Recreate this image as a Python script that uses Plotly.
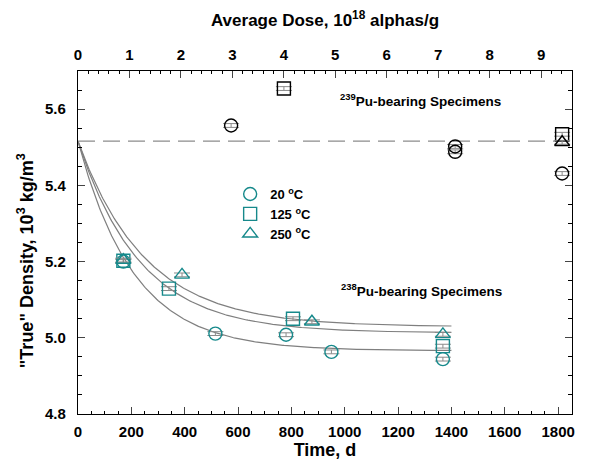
import numpy as np
import plotly.graph_objects as go

# ---- data ----
t20 = [170, 515, 780, 950, 1368]
d20 = [5.200, 5.011, 5.008, 4.963, 4.944]
t125 = [170, 341, 806, 1368]
d125 = [5.202, 5.129, 5.050, 4.978]
t250 = [170, 390, 877, 1368]
d250 = [5.204, 5.165, 5.042, 5.009]

pu239_circ_t = [574, 1414, 1414, 1815]
pu239_circ_d = [5.557, 5.502, 5.488, 5.431]
pu239_sq_t = [772, 1815]
pu239_sq_d = [5.654, 5.534]
pu239_tri_t = [1815]
pu239_tri_d = [5.513]

rho0 = 5.516          # initial density (dashed reference)
fit_asym = [4.966, 5.013, 5.029]   # fitted asymptotes
fit_tau = [210, 234, 252]          # fitted time constants (d)
fit_tmax = 1400

err = 0.005
teal = "#16898b"
FONT = "Liberation Sans, Arial, sans-serif"
XMAX = 1852
DMAX = 9.6

fig = go.Figure()

# fitted model curves
tt = np.linspace(0, fit_tmax, 300)
for a, tau in zip(fit_asym, fit_tau):
    fig.add_trace(go.Scatter(x=tt, y=a + (rho0 - a) * np.exp(-tt / tau), mode="lines",
                             line=dict(color="#7f7f7f", width=1.2), showlegend=False,
                             hoverinfo="skip"))

# dashed reference line
fig.add_trace(go.Scatter(x=[0, XMAX], y=[rho0, rho0], mode="lines",
                         line=dict(color="#8c8c8c", width=1.2, dash="17px,8px"),
                         showlegend=False, hoverinfo="skip"))

def pts(x, y, sym, color, name=None, show=False):
    return go.Scatter(x=x, y=y, mode="markers", name=name, showlegend=show,
                      marker=dict(symbol=sym, size=13, color=color,
                                  line=dict(color=color, width=1.4)),
                      error_y=dict(type="constant", value=err, color="#8a8a8a",
                                   thickness=1, width=8),
                      cliponaxis=False)

fig.add_trace(pts(t20, d20, "circle-open", teal, "20 <sup>o</sup>C", True))
fig.add_trace(pts(t125, d125, "square-open", teal, "125 <sup>o</sup>C", True))
fig.add_trace(pts(t250, d250, "triangle-up-open", teal, "250 <sup>o</sup>C", True))
fig.add_trace(pts(pu239_circ_t, pu239_circ_d, "circle-open", "black"))
fig.add_trace(pts(pu239_sq_t, pu239_sq_d, "square-open", "black"))
fig.add_trace(pts(pu239_tri_t, pu239_tri_d, "triangle-up-open", "black"))

# invisible trace for top dose axis
fig.add_trace(go.Scatter(x=[0, DMAX], y=[4.8, 4.8], xaxis="x2", mode="markers",
                         marker=dict(opacity=0), showlegend=False, hoverinfo="skip"))

tickfont = dict(family=FONT, size=15, color="black", weight="bold")
titlefont = dict(family=FONT, size=17, color="black", weight="bold")

fig.update_layout(
    width=598, height=468,
    margin=dict(l=70, r=34, t=63, b=62),
    plot_bgcolor="white", paper_bgcolor="white",
    font=dict(family=FONT, color="black"),
    xaxis=dict(range=[0, XMAX], tickvals=list(range(0, 1801, 200)), ticks="inside",
               ticklen=7, tickwidth=1, ticklabelstandoff=4,
               showline=True, linecolor="black", linewidth=1.2, showgrid=False,
               zeroline=False, tickfont=tickfont, automargin=False,
               minor=dict(dtick=50, ticks="inside", ticklen=3, tickcolor="black"),
               title=dict(text="Time, d", font=dict(family=FONT, size=18, color="black",
                                                     weight="bold"), standoff=2)),
    xaxis2=dict(range=[0, DMAX], dtick=1, overlaying="x", side="top", anchor="y",
                ticks="inside", ticklen=7, ticklabelstandoff=4,
                showline=True, linecolor="black", linewidth=1.2,
                showgrid=False, zeroline=False, tickfont=tickfont, automargin=False,
                minor=dict(dtick=0.2, ticks="inside", ticklen=3, tickcolor="black"),
                title=dict(text="Average Dose, 10<sup>18</sup> alphas/g", font=titlefont,
                           standoff=16)),
    yaxis=dict(range=[4.8, 5.7], dtick=0.2, tickformat=".1f", ticks="inside", ticklen=7,
               ticklabelstandoff=8,
               showline=True, linecolor="black", linewidth=1.2, mirror="ticks",
               showgrid=False, zeroline=False, tickfont=tickfont, automargin=False,
               minor=dict(dtick=0.05, ticks="inside", ticklen=4, tickcolor="black")),
    legend=dict(x=0.308, y=0.685, xanchor="left", yanchor="top",
                bgcolor="rgba(0,0,0,0)", font=dict(family=FONT, size=13, weight="bold"),
                itemwidth=30, tracegroupgap=0),
    annotations=[
        dict(x=-0.107, y=0.446, xref="paper", yref="paper", showarrow=False,
             xanchor="center", yanchor="middle", textangle=-90,
             text='"True" Density, 10<sup>3</sup> kg/m<sup>3</sup>',
             font=dict(family=FONT, size=18, color="black", weight="bold")),
        dict(x=975, y=5.624, xref="x", yref="y", showarrow=False,
             xanchor="left", yanchor="middle",
             text="<sup>239</sup>Pu-bearing Specimens",
             font=dict(family=FONT, size=13.5, weight="bold")),
        dict(x=980, y=5.125, xref="x", yref="y", showarrow=False,
             xanchor="left", yanchor="middle",
             text="<sup>238</sup>Pu-bearing Specimens",
             font=dict(family=FONT, size=13.5, weight="bold")),
    ],
)

fig.write_html("out.html")
